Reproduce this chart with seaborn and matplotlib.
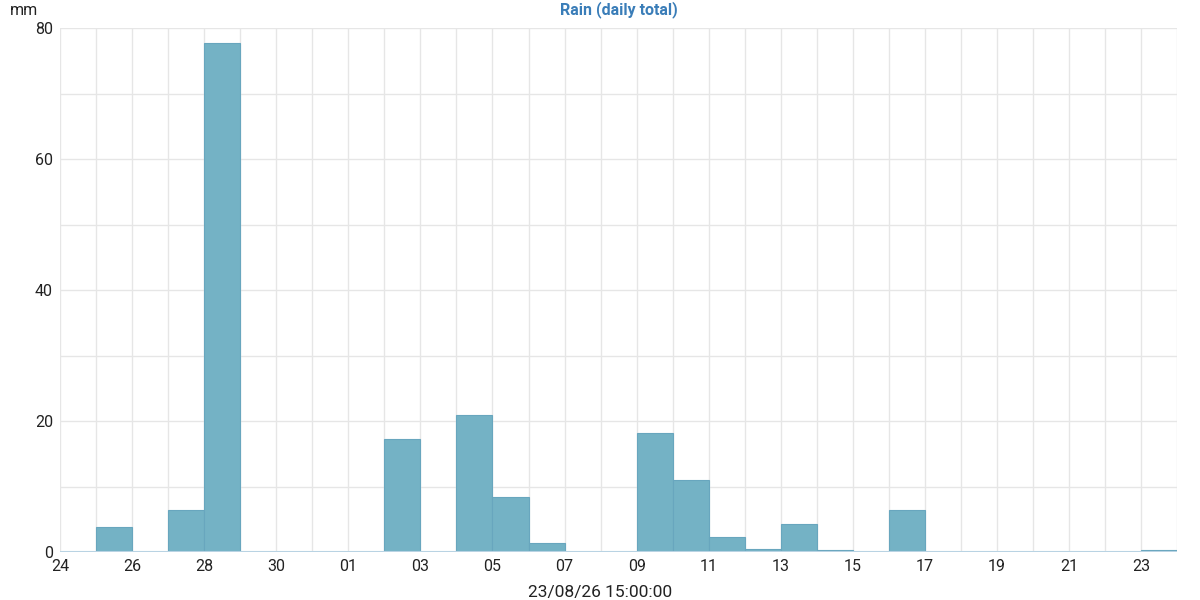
import numpy as np
import pandas as pd
import matplotlib
matplotlib.use('Agg')
import matplotlib.pyplot as plt
import seaborn as sns
from matplotlib.ticker import MultipleLocator, FuncFormatter

# daily rain totals, one value per day starting 24th
start_date = '2023-08-24'
rain_mm = [0.0, 3.8, 0.0, 6.4, 77.8, 0.0, 0.0, 0.0,
           0.0, 17.3, 0.0, 20.9, 8.4, 1.3, 0.0, 0.0,
           18.1, 11.0, 2.3, 0.5, 4.3, 0.3, 0.0, 6.4,
           0.0, 0.0, 0.0, 0.0, 0.0, 0.0, 0.3]
title = 'Rain (daily total)'
unit = 'mm'
xlabel = '23/08/26 15:00:00'

n_days = len(rain_mm)
days = pd.date_range(start_date, periods=n_days + 1, freq='D')
df = pd.DataFrame({'day': np.arange(n_days) + 0.5, 'rain': rain_mm})

sns.set_style('white')
plt.rcParams['font.family'] = ['Roboto', 'DejaVu Sans']

fig, ax = plt.subplots(figsize=(12, 6), dpi=100)
fig.subplots_adjust(left=0.05, right=0.981, top=0.953, bottom=0.08)

sns.histplot(data=df, x='day', weights='rain', bins=n_days, binrange=(0, n_days),
             color='#74b2c5', alpha=1, edgecolor='#68a6be', linewidth=0.8, ax=ax)
ax.axhline(0, color='#b9d3e3', linewidth=1.5, zorder=3)

ax.set_xlim(0, n_days)
ax.set_ylim(0, 80)
ax.xaxis.set_major_locator(MultipleLocator(2))
ax.xaxis.set_minor_locator(MultipleLocator(1))
ax.xaxis.set_major_formatter(FuncFormatter(lambda v, p: days[int(round(v))].strftime('%d') if 0 <= v <= n_days else ''))
ax.yaxis.set_major_locator(MultipleLocator(20))
ax.yaxis.set_minor_locator(MultipleLocator(10))
ax.grid(True, which='both', color='#e6e6e6', linewidth=1)
ax.set_axisbelow(True)
for s in ax.spines.values():
    s.set_visible(False)
ax.tick_params(axis='both', which='both', length=0, labelsize=11.5, colors='#222222')
ax.tick_params(axis='x', pad=5)
ax.tick_params(axis='y', pad=5)

ax.set_ylabel('')
ax.set_xlabel('')
fig.text(0.5, 0.012, xlabel, fontsize=12.5, color='#222222', ha='center', va='center')
ax.set_title(title, fontsize=11.5, fontweight='bold', color='#3a7db8', pad=10)
fig.text(0.008, 0.983, unit, fontsize=11.5, color='#222222', va='center')

plt.savefig('out.png', dpi=100)
plt.close()
